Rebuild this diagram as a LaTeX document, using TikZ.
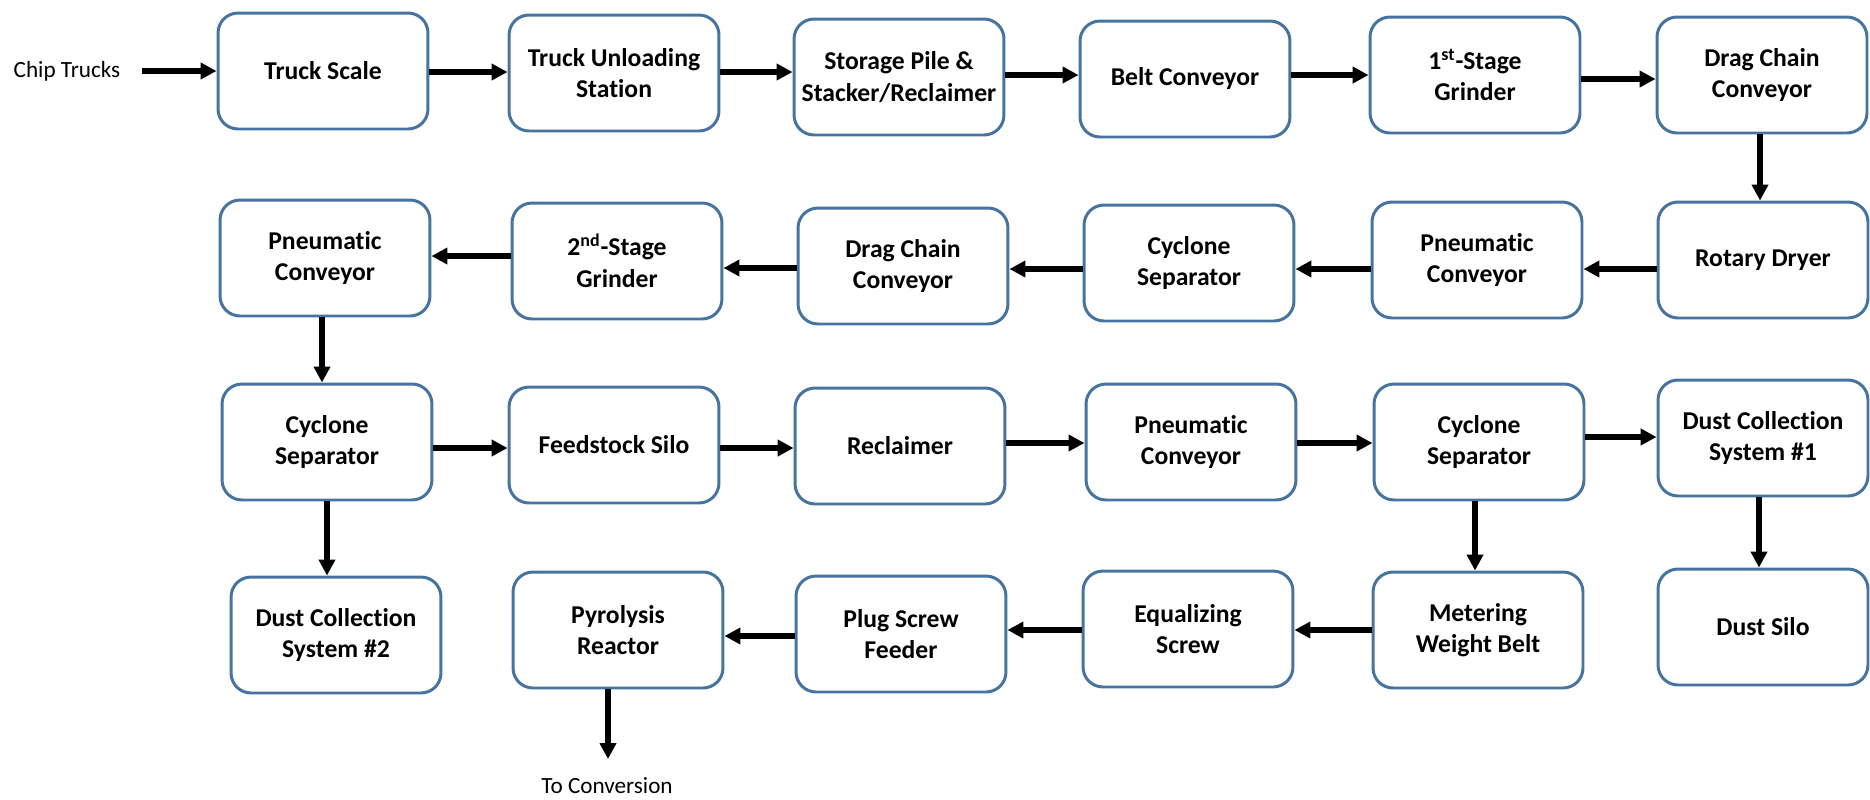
\documentclass[tikz,border=0pt]{standalone}
\usepackage{fontspec}
\setmainfont[RawFeature=-liga]{Carlito}
\usetikzlibrary{arrows.meta}
\definecolor{boxblue}{RGB}{70,115,160}
\begin{document}
\begin{tikzpicture}[x=0.02cm,y=-0.02cm,
  proc/.style={draw=boxblue, line width=1.7pt, rounded corners=0.4cm,
    minimum width=4.2cm, minimum height=2.32cm, align=center, inner sep=2pt,
    font=\bfseries\fontsize{14.6}{18}\selectfont},
  flow/.style={line width=3pt, -{Triangle[length=9pt,width=9pt]}},
  note/.style={font=\fontsize{13.2}{16}\selectfont, inner sep=0pt}]
\useasboundingbox (0,0) rectangle (1870,799);

% row 1
\node[proc] (ts)  at (323,71)  {Truck Scale};
\node[proc] (tu)  at (614,73)  {Truck Unloading\\Station};
\node[proc] (sp)  at (899,77)  {Storage Pile \&\\Stacker/Reclaimer};
\node[proc] (bc)  at (1185,79) {Belt Conveyor};
\node[proc] (g1)  at (1475,75) {1\textsuperscript{st}-Stage\\Grinder};
\node[proc] (dc1) at (1762,75) {Drag Chain\\Conveyor};
% row 2
\node[proc] (pc1) at (325,258)  {Pneumatic\\Conveyor};
\node[proc] (g2)  at (617,261)  {2\textsuperscript{nd}-Stage\\Grinder};
\node[proc] (dc2) at (903,266)  {Drag Chain\\Conveyor};
\node[proc] (cs1) at (1189,263) {Cyclone\\Separator};
\node[proc] (pc2) at (1477,260) {Pneumatic\\Conveyor};
\node[proc] (rd)  at (1763,260) {Rotary Dryer};
% row 3
\node[proc] (cs2)  at (327,442)  {Cyclone\\Separator};
\node[proc] (fs)   at (614,445)  {Feedstock Silo};
\node[proc] (rc)   at (900,446)  {Reclaimer};
\node[proc] (pc3)  at (1191,442) {Pneumatic\\Conveyor};
\node[proc] (cs3)  at (1479,442) {Cyclone\\Separator};
\node[proc] (dcs1) at (1763,438) {Dust Collection\\System \#1};
% row 4
\node[proc] (dcs2) at (336,635)  {Dust Collection\\System \#2};
\node[proc] (pr)   at (618,630)  {Pyrolysis\\Reactor};
\node[proc] (psf)  at (901,634)  {Plug Screw\\Feeder};
\node[proc] (es)   at (1188,629) {Equalizing\\Screw};
\node[proc] (mwb)  at (1478,630) {Metering\\Weight Belt};
\node[proc] (ds)   at (1763,627) {Dust Silo};

% free labels
\node[note] (chip) at (67,71) {Chip Trucks};
\node[note, anchor=base] (tc) at (607,793) {To Conversion};
\coordinate (tcend) at (608,759);

% row 1 flow
\draw[flow] ([xshift=12pt]chip.east) -- (chip.east -| ts.west);
\draw[flow] (ts.east |- 0,72) -- (tu.west |- 0,72);
\draw[flow] (tu.east |- 0,72) -- (sp.west |- 0,72);
\draw[flow] (sp.east |- 0,75) -- (bc.west |- 0,75);
\draw[flow] (bc.east |- 0,75) -- (g1.west |- 0,75);
\draw[flow] (g1.east |- 0,79) -- (dc1.west |- 0,79);
\draw[flow] (dc1.south -| 1760,0) -- (rd.north -| 1760,0);
% row 2 flow
\draw[flow] (rd.west |- 0,269)  -- (pc2.east |- 0,269);
\draw[flow] (pc2.west |- 0,269) -- (cs1.east |- 0,269);
\draw[flow] (cs1.west |- 0,269) -- (dc2.east |- 0,269);
\draw[flow] (dc2.west |- 0,268) -- (g2.east |- 0,268);
\draw[flow] (g2.west |- 0,256)  -- (pc1.east |- 0,256);
\draw[flow] (pc1.south -| 322,0) -- (cs2.north -| 322,0);
% row 3 flow
\draw[flow] (cs2.east |- 0,448) -- (fs.west |- 0,448);
\draw[flow] (fs.east |- 0,448)  -- (rc.west |- 0,448);
\draw[flow] (rc.east |- 0,443)  -- (pc3.west |- 0,443);
\draw[flow] (pc3.east |- 0,443) -- (cs3.west |- 0,443);
\draw[flow] (cs3.east |- 0,437) -- (dcs1.west |- 0,437);
\draw[flow] (cs2.south -| 327,0) -- (dcs2.north -| 327,0);
\draw[flow] (cs3.south -| 1475,0) -- (mwb.north -| 1475,0);
\draw[flow] (dcs1.south -| 1759,0) -- (ds.north -| 1759,0);
% row 4 flow
\draw[flow] (mwb.west |- 0,630) -- (es.east |- 0,630);
\draw[flow] (es.west |- 0,630)  -- (psf.east |- 0,630);
\draw[flow] (psf.west |- 0,636) -- (pr.east |- 0,636);
\draw[flow] (tcend |- pr.south) -- (tcend);
\end{tikzpicture}
\end{document}
